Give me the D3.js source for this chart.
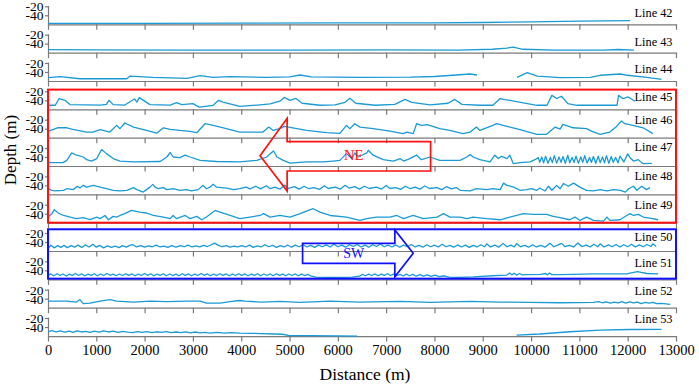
<!DOCTYPE html>
<html>
<head>
<meta charset="utf-8">
<script src="https://cdn.jsdelivr.net/npm/d3@7"></script>
<style>
  body { margin: 0; background: #fff; }
</style>
</head>
<body>
<div id="chart"></div>
<script>
// Seabed depth profiles along survey lines 42-53 (distance in m, depth in m).
// null marks a gap in the record.
const lineNames = ["Line 42", "Line 43", "Line 44", "Line 45", "Line 46", "Line 47",
                   "Line 48", "Line 49", "Line 50", "Line 51", "Line 52", "Line 53"];

const xTickValues = [0, 1000, 2000, 3000, 4000, 5000, 6000, 7000, 8000, 9000, 10000, 11000, 12000, 13000];
const yTickValues = [-20, -40];

const line42 = [[0,-58],[2000,-58],[4000,-57.5],[6000,-57],[8000,-57],[9000,-56],[10000,-54.5],[11000,-53],[12050,-52]];

const line43 = [[0,-53.5],[1000,-54],[3000,-54.5],[5000,-54.5],[7000,-54],[8500,-54.5],[9200,-52.5],[9500,-50],
  [9630,-47.5],[9830,-52.5],[10500,-54.5],[11500,-54.5],[11800,-53],[12130,-54.5]];

const line44 = [[0,-52.7],[250,-50.4],[660,-55],[1630,-55],[1700,-49],[2170,-51.8],[2880,-54],[3150,-48],[3420,-51.8],
  [3770,-50.4],[4500,-52],[5000,-51],[5220,-46.7],[5450,-51],[6500,-52],[7500,-51.5],[8000,-50],[8740,-44.5],[8880,-46.7],
  [8900,null],[9710,-51.8],[9920,-41.5],[10130,-49],[10600,-52.7],[11230,-51.8],[11430,-47.3],[11850,-44.5],[11990,-47.3],
  [12400,-51.8],[12700,-56.2]];

const line45 = [[0,-51],[150,-51],[230,-36],[350,-40],[455,-49.5],[1080,-50.5],[1210,-49],[1260,-40],[1350,-49.5],
  [1590,-50.5],[1790,-37],[1840,-44],[1890,-34],[2110,-49.5],[2530,-50.5],[2660,-45],[2770,-49.5],[3000,-47.5],
  [3130,-55],[3420,-51],[3530,-40],[3620,-44],[3870,-50.5],[3970,-53.5],[4390,-50],[4600,-48],[4800,-42],[4890,-33.5],
  [5010,-40],[5130,-35.5],[5260,-46.5],[5630,-51],[5940,-50],[6150,-44.5],[6250,-35.5],[6370,-46.5],[6770,-51],
  [7180,-49],[7390,-38],[7530,-44.5],[7910,-50],[8280,-46.5],[8420,-38],[8570,-49],[8940,-51],[9210,-51],[9360,-36],
  [9460,-38.5],[9560,-40],[10120,-51],[10330,-51],[10430,-29],[10530,-36],[10630,-31],[10760,-47.5],[10950,-51],
  [11780,-51],[11810,-29],[11900,-36],[12010,-32.5],[12150,-42]];

const line46 = [[0,-46],[210,-37.8],[390,-38],[490,-41],[800,-47.5],[930,-47.5],[1080,-42],[1280,-47.5],[1420,-32.7],
  [1490,-40],[1590,-27.5],[1770,-36.5],[2040,-44],[2250,-50],[2390,-38],[2530,-41.5],[2730,-44],[2940,-46],[3080,-49],
  [3250,-29],[3420,-32.7],[3630,-38],[3970,-47.5],[4450,-47.5],[4570,-36.5],[4660,-44],[4800,-40],[4890,-35],
  [5010,-37],[5350,-44],[5770,-49],[6040,-50.5],[6180,-32.7],[6250,-40],[6350,-29],[6460,-36.5],[6730,-40],
  [7080,-45.5],[7350,-51],[7430,-47.5],[7560,-51],[7630,-29],[7730,-32.7],[7850,-31],[8110,-40],[8320,-44],
  [8590,-51],[8740,-47.5],[8870,-36.5],[8940,-44],[9210,-32.7],[9290,-29],[9420,-32.7],[9770,-42],[10120,-52.5],
  [10320,-52.5],[10500,-36.5],[10600,-41],[10660,-30.5],[10870,-38],[11150,-40],[11250,-45.5],[11430,-52.5],
  [11630,-47.5],[11770,-35],[11870,-23],[11940,-29],[12110,-32.7],[12320,-38],[12520,-51]];

const line47 = [[0,-52.5],[310,-52.5],[390,-47.5],[490,-31],[560,-34.5],[730,-40],[800,-46],[900,-49],[1010,-43.5],
  [1080,-29],[1110,-23.5],[1210,-32.5],[1350,-43.5],[1490,-49],[1760,-51],[2320,-50],[2460,-40],[2530,-30],[2590,-40],
  [2730,-41.5],[2840,-36],[2940,-40],[3150,-47.5],[3490,-50],[3970,-51],[4320,-47.5],[4530,-40],[4600,-32.5],
  [4670,-26.7],[4740,-40],[4870,-47.5],[5010,-53.5],[5350,-51],[5700,-51],[5900,-49],[6040,-47.5],[6180,-32.5],
  [6290,-43.5],[6350,-31],[6420,-40],[6600,-31],[6630,-25],[6730,-36],[6940,-46],[7150,-49],[7290,-43.5],[7360,-49],
  [7490,-43.5],[7630,-36],[7730,-46],[7910,-40],[8110,-47.5],[8530,-47.5],[8670,-40],[8740,-34.5],[8800,-40],
  [8940,-46],[9150,-51],[9250,-36],[9320,-43.5],[9390,-38.5],[9500,-43.5],[9560,-36],[9630,-54.5],[9770,-52.5],
  [9980,-51],[10080,-46],[10150,-41.5],[10180,-52],[10220,-40],[10260,-53],[10300,-38],[10350,-54],[10400,-41],
  [10440,-52.5],[10480,-37],[10530,-53.5],[10580,-40],[10620,-52],[10660,-39],[10710,-54],[10760,-36],[10800,-53],
  [10850,-41],[10890,-52.5],[10930,-38],[10980,-54],[11030,-40],[11070,-52],[11110,-37],[11160,-53.5],[11210,-41],
  [11250,-52],[11290,-39],[11340,-54],[11390,-38],[11430,-52.5],[11480,-40],[11520,-53],[11560,-37],[11610,-54],
  [11660,-39],[11700,-52],[11750,-41],[11800,-53],[11840,-38],[11920,-51],[12000,-33],[12050,-41.5],[12120,-49],
  [12220,-46],[12290,-52.5],[12320,-54.5],[12500,-54]];

const line48 = [[0,-47.5],[80,-51],[150,-52.5],[320,-51],[390,-47.5],[520,-49.5],[610,-42],[660,-46],[730,-40],
  [800,-44],[940,-40],[1080,-44],[1210,-47.5],[1350,-51],[1490,-52.5],[1630,-51],[1770,-45],[1840,-49.5],[1970,-55],
  [2040,-49.5],[2110,-44],[2170,-37.8],[2220,-44],[2280,-47.5],[2390,-45],[2460,-49.5],[2590,-47.5],[2730,-51],
  [2870,-49.5],[2970,-52.5],[3110,-49.5],[3210,-40],[3280,-47.5],[3350,-44],[3420,-37.8],[3490,-44],[3700,-46],
  [3840,-49.5],[3970,-47.5],[4100,-44],[4180,-48],[4300,-42],[4400,-48],[4520,-41],[4600,-47.5],[4700,-44],
  [4800,-48.5],[4900,-40],[4980,-47],[5100,-43],[5200,-48.5],[5300,-42],[5400,-47.5],[5500,-45],[5620,-49],
  [5720,-41],[5800,-47],[5950,-44],[6050,-48.5],[6150,-40],[6230,-46],[6350,-43],[6450,-48.5],[6550,-42],
  [6650,-47],[6800,-44],[6900,-48.5],[7000,-40.5],[7080,-47],[7200,-45],[7300,-49],[7400,-42],[7500,-47.5],
  [7600,-44],[7700,-48.5],[7800,-41.5],[7900,-47],[8050,-45],[8150,-49.5],[8250,-43],[8350,-48],[8450,-45],
  [8530,-51],[8740,-52.5],[8870,-47.5],[9080,-49.5],[9220,-47.5],[9360,-49.5],[9430,-35],[9500,-40],[9640,-44],
  [9770,-51],[9910,-49.5],[10010,-47.5],[10120,-51],[10180,-46],[10290,-52.5],[10360,-42],[10430,-51],[10530,-40],
  [10600,-47.5],[10670,-36],[10770,-42],[10880,-35],[11010,-44],[11150,-51],[11290,-52.5],[11430,-49.5],
  [11570,-52.5],[11710,-49.5],[11850,-51],[11950,-55],[12020,-47.5],[12120,-42],[12190,-51],[12290,-42],
  [12390,-49.5],[12460,-45]];

const line49 = [[0,-47.5],[80,-40],[130,-31],[210,-38.5],[320,-44],[460,-47.5],[590,-51],[730,-49],[870,-53],
  [1010,-47.5],[1080,-51],[1180,-44],[1250,-53.5],[1350,-46],[1420,-47.5],[1490,-44],[1590,-40],[1730,-32.7],
  [1900,-36.5],[2040,-38.5],[2180,-44],[2390,-47.5],[2530,-51],[2590,-44],[2660,-51],[2840,-44],[2940,-51],
  [3080,-46],[3180,-53.5],[3280,-47.5],[3460,-32.7],[3560,-36.5],[3770,-44],[3970,-51],[4180,-47.5],[4390,-44],
  [4460,-40],[4600,-47.5],[4800,-44],[5010,-47.5],[5220,-40],[5390,-32.7],[5490,-29],[5630,-36.5],[5840,-44],
  [6180,-47.5],[6460,-55],[6600,-51],[6800,-47.5],[7080,-47.5],[7220,-44],[7360,-51],[7560,-44],[7770,-51],
  [8050,-47.5],[8190,-40],[8320,-47.5],[8530,-47.5],[8670,-51],[8800,-47.5],[9080,-51],[9360,-53.5],[9560,-47.5],
  [9700,-44],[9840,-40],[10050,-41.5],[10320,-41.5],[10460,-46],[10600,-49],[10800,-53.5],[10910,-47.5],
  [11010,-55],[11150,-47.5],[11290,-55],[11500,-56.5],[11570,-47.5],[11630,-55],[11840,-53.5],[11980,-44],
  [12050,-40],[12120,-44],[12220,-41.5],[12320,-47.5],[12460,-50],[12630,-53.5]];

const line50 = [[0,-55],[60,-47],[130,-53],[200,-48],[270,-52],[330,-47.5],[400,-52.5],[480,-48],[550,-51.5],
  [620,-47],[700,-52],[770,-46.5],[850,-51],[930,-45],[1000,-51.5],[1070,-47.5],[1150,-53],[1230,-48.5],[1310,-52],
  [1390,-49],[1470,-52.5],[1540,-48],[1620,-51.5],[1700,-47],[1760,-46],[1830,-51],[1920,-48],[2000,-51.5],
  [2080,-48.5],[2160,-50.5],[2240,-47],[2320,-51],[2400,-49],[2480,-52],[2560,-48],[2650,-51.5],[2740,-48],
  [2820,-50.5],[2900,-47],[2980,-51],[3060,-48.5],[3140,-51],[3220,-47.5],[3300,-50],[3380,-46],[3450,-42.5],
  [3520,-47],[3600,-50.5],[3690,-48],[3770,-51.5],[3850,-49],[3930,-51],[4010,-48],[4090,-51],[4170,-47],
  [4250,-52],[4330,-48.5],[4410,-51],[4490,-46],[4570,-50.5],[4650,-47.5],[4730,-52],[4810,-48],[4890,-51],
  [4960,-46.5],[5040,-51.5],[5120,-47],[5200,-50.5],[5280,-46],[5360,-51],[5440,-47.5],[5520,-52],[5600,-47],
  [5680,-50.5],[5760,-46.5],[5840,-51],[5920,-45],[6000,-50.5],[6080,-47],[6160,-51.5],[6240,-46],[6320,-50],
  [6400,-45.5],[6480,-51],[6560,-47],[6640,-51.5],[6720,-46],[6800,-50],[6880,-44.5],[6960,-50.5],[7040,-47],
  [7120,-51],[7200,-46.5],[7280,-51.5],[7360,-47],[7440,-50.5],[7520,-45.5],[7600,-51],[7680,-47.5],[7760,-51.5],
  [7840,-46],[7920,-50.5],[8000,-47],[8080,-51],[8160,-45],[8240,-50.5],[8320,-47.5],[8400,-51.5],[8480,-46.5],
  [8560,-51],[8640,-47],[8720,-52],[8800,-47.5],[8880,-51],[8960,-46],[9040,-50.5],[9080,-44],[9160,-51],
  [9250,-47],[9330,-51.5],[9420,-43],[9500,-50.5],[9580,-47],[9650,-51],[9700,-43.5],[9780,-50.5],[9870,-47.5],
  [9950,-51.5],[10030,-46],[10110,-51],[10200,-47.5],[10290,-51.5],[10390,-42.5],[10470,-50.5],[10550,-47],
  [10630,-43],[10700,-50],[10790,-47.5],[10880,-51],[10970,-42],[11050,-50],[11140,-47],[11220,-51],[11300,-45],
  [11380,-50.5],[11430,-44],[11510,-51],[11600,-46.5],[11680,-50.5],[11760,-45.5],[11840,-51],[11920,-46],
  [12000,-50.5],[12080,-45],[12160,-51],[12240,-46.5],[12320,-50.5],[12400,-45.5],[12480,-50],[12520,-44],[12590,-50]];

const line51 = [[0,-51],[60,-48],[120,-52],[190,-47.5],[250,-51.5],[310,-48],[380,-52.5],[440,-48.5],[500,-51],
  [570,-47],[630,-51.5],[700,-48],[760,-52],[830,-48.5],[890,-51],[960,-47.5],[1020,-52],[1090,-48],[1150,-51.5],
  [1220,-47],[1280,-51],[1350,-48.5],[1410,-52],[1480,-48],[1540,-51.5],[1610,-47.5],[1670,-51],[1740,-48],
  [1800,-52],[1870,-48.5],[1930,-51.5],[2000,-47],[2060,-51],[2130,-48],[2190,-52],[2260,-48.5],[2320,-51],
  [2390,-47.5],[2450,-52],[2520,-48],[2580,-51.5],[2650,-48.5],[2710,-52],[2780,-47.5],[2840,-51],[2910,-48],
  [2970,-52],[3040,-48.5],[3100,-51.5],[3170,-47],[3230,-51],[3300,-48],[3360,-52],[3430,-48.5],[3490,-51.5],
  [3560,-47.5],[3620,-51],[3690,-48],[3750,-52],[3820,-48.5],[3880,-51.5],[3950,-47.5],[4010,-51],[4080,-48],
  [4140,-52],[4210,-48.5],[4270,-51],[4340,-47.5],[4400,-52],[4470,-48],[4530,-51.5],[4600,-48],[4660,-52],
  [4730,-47.5],[4790,-51],[4860,-48.5],[4920,-52],[4990,-48],[5050,-51.5],[5120,-48],[5180,-52],[5250,-48.5],
  [5310,-51.5],[5380,-49],[5450,-53],[5550,-55],[5800,-55.5],[6100,-55.5],[6300,-55],[6450,-53],[6500,-49],
  [6570,-52],[6640,-48.5],[6700,-51.5],[6770,-48],[6830,-52],[6900,-48.5],[6960,-51],[7030,-47.5],[7090,-51.5],
  [7160,-48],[7220,-52],[7290,-49],[7350,-52.5],[7420,-48.5],[7480,-52],[7550,-49],[7620,-53],[7700,-49.5],
  [7770,-53],[7850,-50],[7930,-53.5],[8010,-50.5],[8100,-54],[8200,-52],[8300,-55],[8530,-55.5],[8800,-54.5],
  [9200,-52],[9500,-50.5],[9560,-46],[9600,-50],[9650,-46.5],[9700,-50.5],[9760,-47],[9820,-50],[9900,-49.5],
  [10200,-49],[10300,-47],[10340,-50],[10380,-46],[10430,-49.5],[10600,-49.5],[11300,-48],[12000,-47.5],
  [12200,-43],[12400,-47],[12630,-48]];

const line52 = [[0,-45.5],[390,-45.5],[590,-47.5],[660,-42],[730,-51],[870,-50],[1080,-45.5],[1280,-42],[1420,-45.5],
  [1770,-47.5],[2110,-45.5],[2460,-46.5],[2870,-45.5],[3150,-45.5],[3280,-50],[3560,-50],[3770,-46.5],[3970,-44],
  [4080,-45.5],[4420,-47.5],[4800,-46],[5220,-48],[5840,-45.5],[6460,-47.5],[7290,-46],[7910,-48],[8740,-46],
  [9360,-47.5],[9980,-48],[10600,-49],[11290,-48],[11400,-46.5],[11480,-49],[11560,-47],[11640,-50],[11720,-47.5],
  [11800,-49.5],[11880,-46.5],[11960,-50],[12040,-47],[12120,-49.5],[12200,-47.5],[12280,-51],[12360,-48],
  [12440,-50],[12520,-48],[12600,-51],[12700,-50.5],[12880,-52.5]];

const line53 = [[0,-50.5],[80,-48],[170,-51],[260,-48.5],[350,-51.5],[440,-49],[520,-52],[600,-48.5],[690,-51],
  [780,-49.5],[870,-52],[960,-49],[1060,-51.5],[1150,-48.5],[1250,-51],[1350,-49],[1450,-52],[1550,-49.5],
  [1650,-51.5],[1750,-52.5],[1850,-50],[1950,-52],[2050,-50],[2150,-52.5],[2250,-50.5],[2350,-52],[2450,-50],
  [2550,-52.5],[2650,-51],[2750,-52.5],[2850,-50.5],[2950,-53],[3050,-51],[3150,-53],[3250,-52],[3350,-53.5],
  [3500,-52],[3650,-53.5],[3800,-52.5],[3970,-53.5],[4200,-54],[4400,-54.5],[4700,-55.5],[4850,-56],[5000,-59],
  [5400,-59],[6000,-59.5],[6400,-60],[6500,null],[9700,-57.8],[10180,-55.5],[10800,-50.5],[11430,-47],
  [12050,-45.5],[12700,-45]];

const profiles = [line42, line43, line44, line45, line46, line47, line48, line49, line50, line51, line52, line53];

// Layout
const width = 699, height = 386;
const panelFirstAxis = 24.3, panelStep = 28.34;
const labelLift = [7, 6.6, 7.7, 8.3, 13.3, 14.7, 14.7, 14, 9.8, 12, 12.3, 13.3];
const axisGray = "#7a7a7a";
const profileColor = "#1b9ad6";
const serif = "'Liberation Serif', 'Times New Roman', 'DejaVu Serif', serif";

const svg = d3.select("#chart")
    .append("svg")
    .attr("width", width)
    .attr("height", height)
    .attr("font-family", serif);

const x = d3.scaleLinear()
    .domain([0, 13000])
    .range([48, 676]);

const bases = lineNames.map((_, i) => panelFirstAxis + i * panelStep);

profiles.forEach((data, i) => {
  const base = bases[i];
  const y = d3.scaleLinear()
      .domain([-60, -18])
      .range([base, base - 18.9]);

  const g = svg.append("g");

  // x axis for this panel, labelled only at the bottom
  const xAxis = g.append("g")
      .attr("transform", `translate(0,${base})`)
      .call(d3.axisBottom(x)
          .tickValues(xTickValues)
          .tickSize(5.5)
          .tickSizeOuter(0)
          .tickPadding(3.5)
          .tickFormat(i === profiles.length - 1 ? d3.format("d") : ""));
  xAxis.selectAll("path, line").attr("stroke", axisGray).attr("stroke-width", 1.2);
  xAxis.selectAll("text")
      .attr("fill", "#000")
      .style("font-size", "14.5px");

  const yAxis = g.append("g")
      .attr("transform", `translate(${x(0)},0)`)
      .call(d3.axisLeft(y)
          .tickValues(yTickValues)
          .tickSize(3)
          .tickSizeOuter(0)
          .tickPadding(1.5)
          .tickFormat(d => String(d)));
  yAxis.selectAll("path, line").attr("stroke", axisGray).attr("stroke-width", 1.2);
  yAxis.selectAll("text")
      .attr("fill", "#000")
      .style("font-size", "13.5px");

  const line = d3.line()
      .defined(d => d[1] !== null)
      .x(d => x(d[0]))
      .y(d => y(d[1]));

  g.append("path")
      .datum(data)
      .attr("fill", "none")
      .attr("stroke", profileColor)
      .attr("stroke-width", 1.3)
      .attr("stroke-linejoin", "round")
      .attr("d", line);

  g.append("text")
      .attr("x", 672.5)
      .attr("y", base - labelLift[i])
      .attr("text-anchor", "end")
      .style("font-size", "12.3px")
      .text(lineNames[i]);
});

// Boxes grouping the lines
svg.append("rect")
    .attr("x", x(0))
    .attr("y", bases[3] - 19.7)
    .attr("width", x(13000) - x(0))
    .attr("height", bases[7] - bases[3] + 19.7)
    .attr("fill", "none")
    .attr("stroke", "#ff1010")
    .attr("stroke-width", 2);

svg.append("rect")
    .attr("x", x(0))
    .attr("y", bases[7] + 6.6)
    .attr("width", x(13000) - x(0))
    .attr("height", bases[9] - bases[7] - 7.3)
    .attr("fill", "none")
    .attr("stroke", "#1010ff")
    .attr("stroke-width", 2);

// Direction arrows
const ne = [[4390, 155.7], [4950, 118.3], [4950, 141.7], [7920, 141.7], [7920, 171], [4950, 171], [4950, 191]];
svg.append("path")
    .attr("d", d3.line().x(d => x(d[0])).y(d => d[1])(ne) + "Z")
    .attr("fill", "none")
    .attr("stroke", "#ff1010")
    .attr("stroke-width", 1.7);
svg.append("text")
    .attr("x", x(6330))
    .attr("y", 160)
    .attr("text-anchor", "middle")
    .attr("fill", "#ff1010")
    .style("font-size", "14.5px")
    .text("NE");

const sw = [[5270, 243.3], [7180, 243.3], [7180, 230], [7560, 253.3], [7180, 276.7], [7180, 263.3], [5270, 263.3]];
svg.append("path")
    .attr("d", d3.line().x(d => x(d[0])).y(d => d[1])(sw) + "Z")
    .attr("fill", "none")
    .attr("stroke", "#1010ff")
    .attr("stroke-width", 1.7);
svg.append("text")
    .attr("x", x(6330))
    .attr("y", 258.3)
    .attr("text-anchor", "middle")
    .attr("fill", "#1010ff")
    .style("font-size", "14px")
    .text("SW");

// Axis titles
svg.append("text")
    .attr("x", 365)
    .attr("y", 380)
    .attr("text-anchor", "middle")
    .style("font-size", "17.5px")
    .text("Distance (m)");

svg.append("text")
    .attr("transform", "translate(16,150) rotate(-90)")
    .attr("text-anchor", "middle")
    .style("font-size", "17px")
    .text("Depth (m)");

// every text in the serif face of the original figure
svg.selectAll("text").style("font-family", serif);
</script>
</body>
</html>
